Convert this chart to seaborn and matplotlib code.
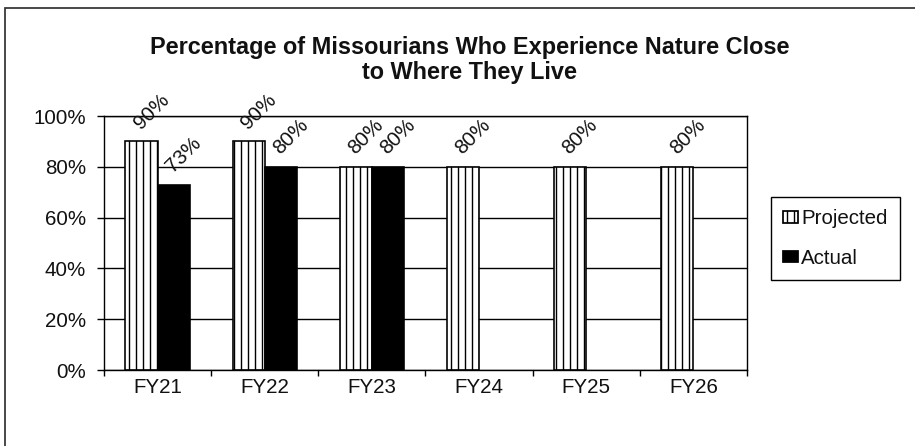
import numpy as np
import pandas as pd
import matplotlib
matplotlib.use("Agg")
import matplotlib.pyplot as plt
import seaborn as sns
from matplotlib.patches import Rectangle
from matplotlib.ticker import PercentFormatter

# ---- data ----
years = ["FY21", "FY22", "FY23", "FY24", "FY25", "FY26"]
projected = [0.90, 0.90, 0.80, 0.80, 0.80, 0.80]
actual = [0.73, 0.80, 0.80, np.nan, np.nan, np.nan]
series = ["Projected", "Actual"]
yticks = [0.0, 0.2, 0.4, 0.6, 0.8, 1.0]
title = "Percentage of Missourians Who Experience Nature Close\nto Where They Live"

sns.set_theme(style="white")
plt.rcParams["font.family"] = ["Liberation Sans", "DejaVu Sans"]
plt.rcParams["hatch.linewidth"] = 1.2
plt.rcParams["hatch.color"] = "black"

DPI = 84
W, H = 915, 446
PT = 72 / DPI  # px -> pt

fig = plt.figure(figsize=(W / DPI, H / DPI), dpi=DPI)
fig.patch.set_facecolor("white")
ax = fig.add_axes([104 / W, 1 - 370 / H, (747 - 104) / W, (370 - 116) / H])

df = pd.DataFrame({
    "Year": years * 2,
    "Series": [series[0]] * len(years) + [series[1]] * len(years),
    "Value": projected + actual,
})

sns.barplot(data=df, x="Year", y="Value", hue="Series", order=years,
            hue_order=series, palette={"Projected": "white", "Actual": "black"},
            width=0.6, edgecolor="black", linewidth=1.4, errorbar=None,
            ax=ax, legend=False, saturation=1)

for bar in ax.containers[0]:
    bar.set_hatch("||")
    bar.set_facecolor("white")
    bar.set_edgecolor("black")

# value labels
fs = 20.5 * PT
for cont in ax.containers:
    for bar in cont:
        h = bar.get_height()
        if np.isnan(h):
            continue
        ax.annotate(f"{h * 100:.0f}%", (bar.get_x() + bar.get_width() / 2, h),
                    xytext=(10, 9), textcoords="offset pixels", rotation=45,
                    ha="center", va="bottom", fontsize=fs, color="#111111")

ax.set_ylim(0, 1.0)
ax.set_yticks(yticks)
ax.yaxis.set_major_formatter(PercentFormatter(1.0, decimals=0))
ax.yaxis.grid(True, color="black", linewidth=1.2)
ax.set_axisbelow(True)

ax.set_xlim(-0.5, len(years) - 0.5)
ax.set_xticks(np.arange(-0.5, len(years), 1.0))
ax.set_xticklabels([])
ax.set_xticks(range(len(years)), minor=True)
ax.set_xticklabels(years, minor=True)
ax.tick_params(axis="x", which="major", direction="out", length=6 * PT,
               width=1.2, color="black", bottom=True)
ax.tick_params(axis="x", which="minor", length=0, pad=8 * PT, labelsize=fs,
               labelcolor="#111111", bottom=True)
ax.tick_params(axis="y", direction="out", length=7 * PT, width=1.2, color="black",
               pad=11 * PT, labelsize=fs, labelcolor="#111111", left=True)
ax.set_xlabel("")
ax.set_ylabel("")
for s in ax.spines.values():
    s.set_visible(True)
    s.set_color("black")
    s.set_linewidth(1.2)

# legend
handles = [Rectangle((0, 0), 1, 1, facecolor="white", edgecolor="black", hatch="||", lw=1.5),
           Rectangle((0, 0), 1, 1, facecolor="black", edgecolor="black", lw=1.5)]
leg = ax.legend(handles, series, loc="upper left",
                bbox_to_anchor=(771 / W, 1 - 197 / H), bbox_transform=fig.transFigure,
                frameon=True, fancybox=False, edgecolor="black", framealpha=1,
                fontsize=fs, handlelength=0.72, handleheight=0.5, handletextpad=0.15,
                labelspacing=1.0, borderpad=0.6, borderaxespad=0)
leg.get_frame().set_linewidth(1.2)
for t in leg.get_texts():
    t.set_color("#111111")

# title
fig.text(470 / W, 1 - 60 / H, title, ha="center", va="center", fontsize=23.5 * PT,
         fontweight="bold", color="#111111", linespacing=1.12)

# outer chart frame (partially cut off)
fig.patches.append(Rectangle((5 / W, -0.5), 2, 1 - 8 / H + 0.5, transform=fig.transFigure,
                             fill=False, lw=1.5, ec="#333333", figure=fig))

fig.savefig("out.png", dpi=DPI)
